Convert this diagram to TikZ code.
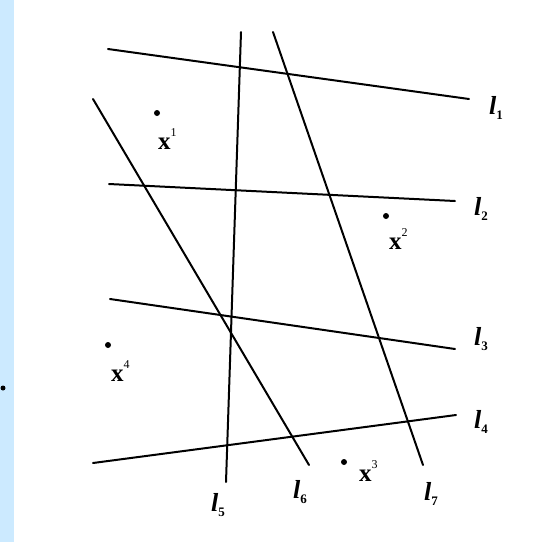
\documentclass[tikz,border=0pt]{standalone}
\usepackage{fontspec}
\setmainfont{Liberation Serif}
\definecolor{sideblue}{RGB}{204,234,255}
\newcommand{\lsub}[1]{\raisebox{-0.4ex}{\fontsize{13}{13}\selectfont\upshape\bfseries #1}}
\newcommand{\xsup}[1]{\raisebox{1.1ex}{\fontsize{12}{12}\selectfont\mdseries #1}}
\begin{document}
\begin{tikzpicture}[x=1pt,y=-1pt,
  ln/.style={line width=2pt, line cap=round},
  pt/.style={circle, fill=black, inner sep=0pt, minimum size=6pt},
  llab/.style={inner sep=0pt, font=\fontsize{26}{26}\selectfont\bfseries\itshape},
  xlab/.style={inner sep=0pt, font=\fontsize{25}{25}\selectfont\bfseries}]
\useasboundingbox (0,0) rectangle (538,542);
\fill[sideblue] (0,0) rectangle (14,542);
\node[pt, minimum size=5pt] (edge) at (3,388) {};
% line end points
\coordinate (l1a) at (108,49);  \coordinate (l1b) at (469,99);
\coordinate (l2a) at (109,184); \coordinate (l2b) at (455,201);
\coordinate (l3a) at (110,299); \coordinate (l3b) at (455,349);
\coordinate (l4a) at (93,463);  \coordinate (l4b) at (456,415);
\coordinate (l5a) at (241,32);  \coordinate (l5b) at (226,482);
\coordinate (l6a) at (93,99);   \coordinate (l6b) at (309,465);
\coordinate (l7a) at (273,32);  \coordinate (l7b) at (423,465);
\draw[ln] (l1a) -- (l1b);
\draw[ln] (l2a) -- (l2b);
\draw[ln] (l3a) -- (l3b);
\draw[ln] (l4a) -- (l4b);
\draw[ln] (l5a) -- (l5b);
\draw[ln] (l6a) -- (l6b);
\draw[ln] (l7a) -- (l7b);
% labels of lines
\node[llab] (t1) at (496,108) {l\lsub{1}};
\node[llab] (t2) at (481,209) {l\lsub{2}};
\node[llab] (t3) at (481,339) {l\lsub{3}};
\node[llab] (t4) at (481,422) {l\lsub{4}};
\node[llab] (t5) at (218,505) {l\lsub{5}};
\node[llab] (t6) at (300,492) {l\lsub{6}};
\node[llab] (t7) at (431,494) {l\lsub{7}};
% points
\node[pt] (x1) at (157,113) {};
\node[pt] (x2) at (386,216) {};
\node[pt] (x3) at (344,462) {};
\node[pt] (x4) at (108,345) {};
\node[xlab, anchor=base west] (x1l) at (158,149) {x\xsup{1}};
\node[xlab, anchor=base west] (x2l) at (389,249) {x\xsup{2}};
\node[xlab, anchor=base west] (x3l) at (359,481) {x\xsup{3}};
\node[xlab, anchor=base west] (x4l) at (111,381) {x\xsup{4}};
\end{tikzpicture}
\end{document}
